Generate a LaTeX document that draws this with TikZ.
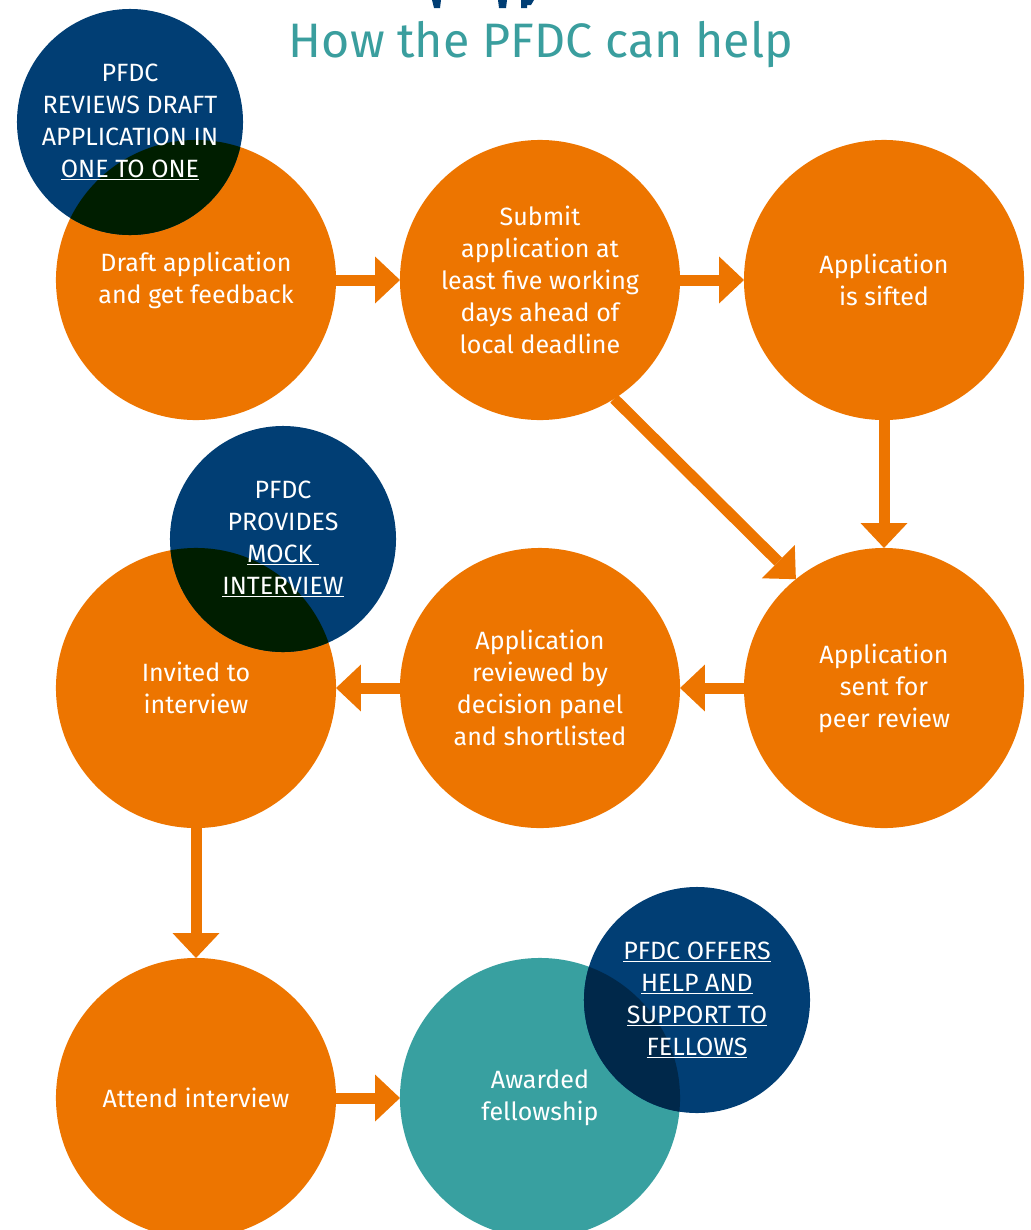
\documentclass[tikz,border=0pt]{standalone}
\usepackage{fontspec}
\setmainfont{Fira Sans}
\usetikzlibrary{arrows.meta}
\definecolor{pfdcorange}{RGB}{237,117,0}
\definecolor{pfdcblue}{RGB}{1,62,116}
\definecolor{pfdcteal}{RGB}{56,160,160}
\definecolor{pfdctitle}{RGB}{58,158,158}
\definecolor{overorange}{RGB}{0,30,0}
\definecolor{overteal}{RGB}{0,40,74}

\begin{document}
\begin{tikzpicture}[x=0.025cm, y=-0.025cm,
    fase/.style={circle, fill=pfdcorange, minimum size=7cm, inner sep=0pt, outer sep=0pt,
        text=white, align=center, font=\fontsize{17.8}{22.8}\selectfont},
    aiuto/.style={circle, fill=pfdcblue, minimum size=5.65cm, inner sep=0pt, outer sep=0pt,
        text=white, align=center, font=\fontsize{17.8}{22.8}\selectfont},
    freccia/.style={pfdcorange, line width=0.275cm,
        -{Triangle[width=1.17cm, length=0.62cm, line width=0pt]}}]
        \useasboundingbox (0,0) rectangle (1031,1230);

        % Titolo
        \fill[pfdcblue] (432,0) -- (441,0) -- (440,8) -- (434,8) -- cycle;
        \fill[pfdcblue] (498,0) -- (507,0) -- (506,8) -- (499,8) -- cycle;
        \fill[pfdcblue] (521,0) -- (534,0) -- (531,5) -- (527,5) -- (527,8) -- (521,8) -- cycle;
        \node[anchor=base, font=\fontsize{34.4}{38}\selectfont, text=pfdctitle] (titolo) at (541,57) {How the PFDC can help};

        % Fasi
        \node[fase] (bozza) at (196,280) {Draft application\\and get feedback};
        \node[fase] (invio) at (540,280) {Submit\\application at\\least five working\\days ahead of\\local deadline};
        \node[fase] (vaglio) at (884,280) {Application\\is sifted};
        \node[fase] (revisione) at (884,688) {Application\\sent for\\peer review};
        \node[fase] (panel) at (540,688) {Application\\reviewed by\\decision panel\\and shortlisted};
        \node[fase] (invito) at (196,688) {Invited to\\interview};
        \node[fase] (colloquio) at (196,1098) {Attend interview};
        \node[fase, fill=pfdcteal] (borsa) at (540,1098) {Awarded\\fellowship};

        % Aiuti PFDC
        \node[aiuto, path picture={\fill[overorange] (bozza.center) circle[radius=3.5cm];}] (rilettura) at (130,122)
            {PFDC\\REVIEWS DRAFT\\APPLICATION IN\\\underline{ONE TO ONE}};
        \node[aiuto, path picture={\fill[overorange] (invito.center) circle[radius=3.5cm];}] (simulazione) at (283,539)
            {PFDC\\PROVIDES\\\underline{MOCK\ }\\\underline{INTERVIEW}};
        \node[aiuto, path picture={\fill[overteal] (borsa.center) circle[radius=3.5cm];}] (sostegno) at (697,1000)
            {\underline{PFDC OFFERS}\\\underline{HELP AND}\\\underline{SUPPORT TO}\\\underline{FELLOWS}};

        % Frecce
        \draw[freccia] (bozza) -- (invio);
        \draw[freccia] (invio) -- (vaglio);
        \draw[freccia] (vaglio) -- (revisione);
        \draw[freccia] (invio.-58) -- (revisione.129); % in diagonale
        \draw[freccia] (revisione) -- (panel);
        \draw[freccia] (panel) -- (invito);
        \draw[freccia] (invito) -- (colloquio);
        \draw[freccia] (colloquio) -- (borsa);

\end{tikzpicture}
\end{document}
